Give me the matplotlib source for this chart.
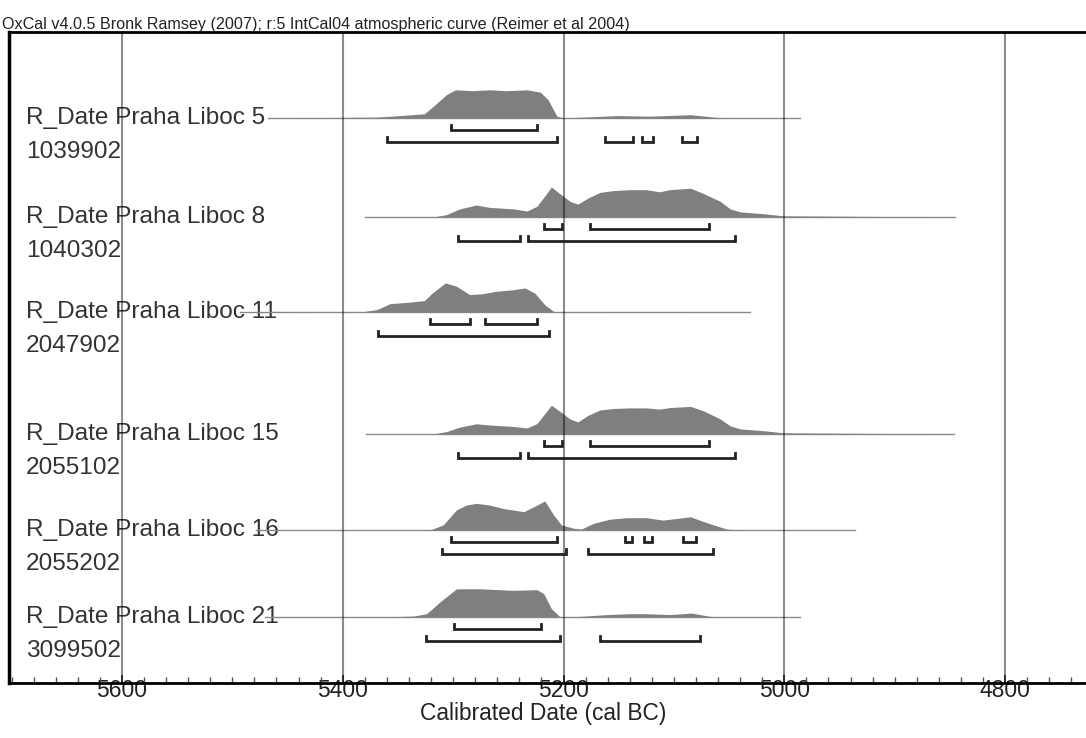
import matplotlib
matplotlib.use('Agg')
import numpy as np
import matplotlib.pyplot as plt
import matplotlib.ticker as ticker
import matplotlib.transforms as mtransforms

plt.rcParams['font.family'] = ['Liberation Sans', 'DejaVu Sans']

title = 'OxCal v4.0.5 Bronk Ramsey (2007); r:5 IntCal04 atmospheric curve (Reimer et al 2004)'
names = ['R_Date Praha Liboc 5', 'R_Date Praha Liboc 8', 'R_Date Praha Liboc 11',
         'R_Date Praha Liboc 15', 'R_Date Praha Liboc 16', 'R_Date Praha Liboc 21']
lab_codes = ['1039902', '1040302', '2047902', '2055102', '2055202', '3099502']
tick_years = [5600, 5400, 5200, 5000, 4800]

# Probability distributions (cal BC, relative probability).
yrs1 = [5468, 5369, 5348, 5326, 5318, 5306, 5298, 5282, 5267, 5252, 5233, 5221, 5214, 5206,
        5200, 5182, 5152, 5122, 5085, 5061, 5046, 4986]
p1 = [0, 0.03, 0.08, 0.14, 0.39, 0.78, 0.94, 0.91, 0.94, 0.91, 0.94, 0.86, 0.61, 0.06,
      0, 0.03, 0.08, 0.06, 0.11, 0.02, 0, 0]
yrs2 = [5380, 5318, 5306, 5294, 5279, 5267, 5245, 5233, 5224, 5215, 5211, 5202, 5194, 5187,
        5178, 5167, 5155, 5140, 5125, 5113, 5104, 5085, 5073, 5058, 5049, 5040, 5019, 5001, 4845]
p2 = [0, 0, 0.08, 0.27, 0.40, 0.32, 0.27, 0.20, 0.36, 0.80, 1.0, 0.74, 0.52, 0.43,
      0.63, 0.82, 0.88, 0.91, 0.91, 0.84, 0.91, 0.96, 0.78, 0.52, 0.27, 0.17, 0.11, 0.04, 0]
yrs3 = [5493, 5460, 5430, 5384, 5369, 5357, 5342, 5326, 5319, 5307, 5297, 5285, 5273, 5261,
        5246, 5235, 5226, 5217, 5209, 5203, 5150, 5100, 5031]
p3 = [0, 0.02, 0, 0, 0.08, 0.28, 0.32, 0.38, 0.63, 0.97, 0.86, 0.58, 0.61, 0.69,
      0.74, 0.80, 0.63, 0.24, 0.02, 0, 0.01, 0.01, 0]
yrs4 = [5379, 5318, 5306, 5294, 5279, 5267, 5245, 5233, 5224, 5215, 5211, 5202, 5194, 5187,
        5178, 5167, 5155, 5140, 5125, 5113, 5104, 5085, 5073, 5058, 5049, 5040, 5019, 5001, 4846]
p4 = [0, 0, 0.08, 0.23, 0.34, 0.30, 0.25, 0.20, 0.35, 0.77, 0.96, 0.72, 0.50, 0.40,
      0.62, 0.80, 0.85, 0.87, 0.87, 0.83, 0.88, 0.92, 0.77, 0.50, 0.27, 0.17, 0.11, 0.04, 0]
yrs5 = [5479, 5321, 5309, 5297, 5288, 5279, 5267, 5255, 5236, 5224, 5217, 5209, 5202, 5191,
        5184, 5173, 5158, 5143, 5125, 5110, 5085, 5070, 5052, 5040, 4936]
p5 = [0, 0, 0.17, 0.67, 0.83, 0.89, 0.83, 0.72, 0.61, 0.83, 0.97, 0.50, 0.17, 0.06,
      0.03, 0.22, 0.36, 0.41, 0.41, 0.33, 0.44, 0.24, 0.03, 0, 0]
yrs6 = [5470, 5366, 5336, 5324, 5312, 5297, 5276, 5246, 5224, 5218, 5211, 5203, 5185, 5161,
        5140, 5125, 5104, 5084, 5067, 5052, 4986]
p6 = [0, 0, 0.03, 0.11, 0.50, 0.94, 0.94, 0.89, 0.91, 0.78, 0.28, 0, 0.02, 0.08,
      0.11, 0.11, 0.08, 0.13, 0.02, 0, 0]

# Highest probability density ranges (from, to) cal BC.
r68_1 = [(5302, 5224)]
r95_1 = [(5360, 5206), (5162, 5137), (5129, 5119), (5093, 5079)]
r68_2 = [(5218, 5201), (5176, 5068)]
r95_2 = [(5296, 5239), (5232, 5045)]
r68_3 = [(5321, 5285), (5271, 5224)]
r95_3 = [(5368, 5213)]
r68_4 = [(5218, 5201), (5176, 5068)]
r95_4 = [(5296, 5239), (5232, 5045)]
r68_5 = [(5302, 5206), (5144, 5138), (5127, 5120), (5092, 5080)]
r95_5 = [(5310, 5198), (5178, 5065)]
r68_6 = [(5299, 5220)]
r95_6 = [(5325, 5203), (5167, 5076)]

years = [yrs1, yrs2, yrs3, yrs4, yrs5, yrs6]
probs = [p1, p2, p3, p4, p5, p6]
r68 = [r68_1, r68_2, r68_3, r68_4, r68_5, r68_6]
r95 = [r95_1, r95_2, r95_3, r95_4, r95_5, r95_6]

# layout (pixel-like units on the y axis)
W, H = 1086, 738
top, bottom, left, right = 32, 683, 9, 1090
baselines = [118, 217, 312, 434, 530, 617]
peak_h = 30

fig = plt.figure(figsize=(W / 100, H / 100), dpi=100)
ax = fig.add_axes([left / W, (H - bottom) / H, (right - left) / W, (bottom - top) / H])
ax.set_xlim(5702.3, 4723.1)
ax.set_ylim(bottom, top)

for i in range(6):
    y0 = baselines[i]
    yr = np.array(years[i], dtype=float)
    p = np.array(probs[i], dtype=float)
    ax.plot([yr[0], yr[-1]], [y0, y0], color='#8a8a8a', lw=1, zorder=2)
    ax.fill_between(yr, y0, y0 - p * peak_h, color='#7f7f7f', lw=0, zorder=2)
    for off, ranges in ((11.5, r68[i]), (23.5, r95[i])):
        yb = y0 + off
        for a, b in ranges:
            ax.plot([a, a, b, b], [yb - 4.5, yb, yb, yb - 4.5], color='#222222',
                    lw=2, solid_joinstyle='miter', zorder=4)

trans = mtransforms.blended_transform_factory(fig.transFigure, ax.transData)
for i in range(6):
    ax.text(26 / W, baselines[i] + 6, names[i], transform=trans, fontsize=17.6,
            color='#333333', va='baseline', ha='left', zorder=1)
    ax.text(26 / W, baselines[i] + 40, lab_codes[i], transform=trans, fontsize=17.6,
            color='#333333', va='baseline', ha='left', zorder=1)

for t in tick_years:
    ax.axvline(t, color='black', alpha=0.45, lw=1.5, zorder=3)

ax.set_xticks(tick_years)
ax.set_xticklabels([str(t) for t in tick_years])
ax.xaxis.set_minor_locator(ticker.MultipleLocator(20))
ax.tick_params(axis='x', which='major', direction='in', length=6, width=1.2,
               pad=-3.2, labelsize=16.5, labelcolor='#222222', color='#333333')
ax.tick_params(axis='x', which='minor', direction='in', length=4, width=1, color='#555555')
ax.set_yticks([])
ax.spines['right'].set_visible(False)
ax.spines['left'].set_linewidth(2.5)
ax.spines['top'].set_linewidth(2)
ax.spines['bottom'].set_linewidth(2)

fig.text(2 / W, (H - 28.5) / H, title, fontsize=11.6, color='#222222', va='baseline', ha='left')
fig.text(543 / W, (H - 720) / H, 'Calibrated Date (cal BC)', fontsize=16.4,
         color='#222222', va='baseline', ha='center')

fig.savefig('out.png', dpi=100)
